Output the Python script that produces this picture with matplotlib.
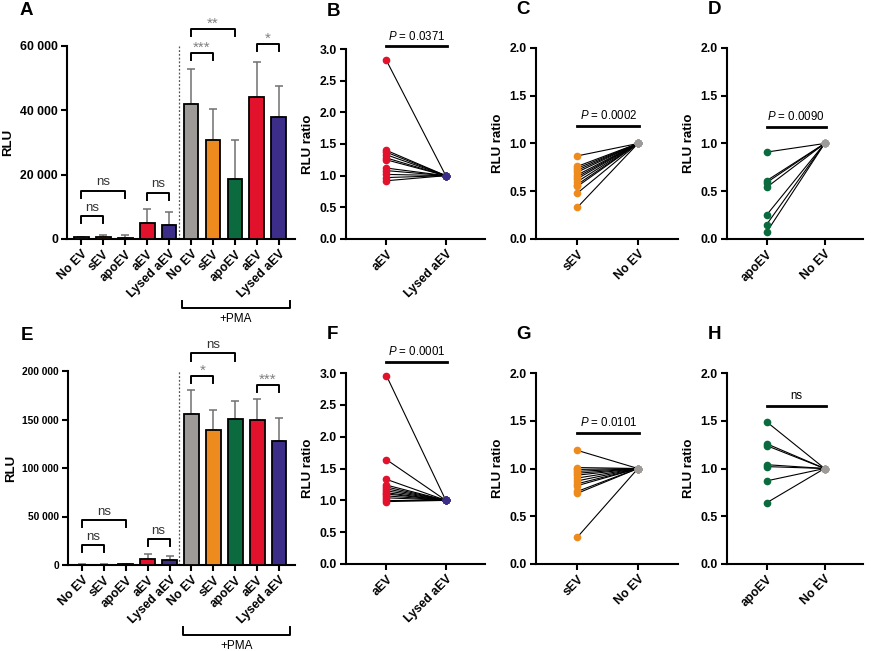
import matplotlib
matplotlib.use('Agg')
import matplotlib.pyplot as plt
import matplotlib.transforms as mtransforms

plt.rcParams['font.family'] = ['Liberation Sans', 'DejaVu Sans']
plt.rcParams['mathtext.fontset'] = 'custom'
plt.rcParams['mathtext.rm'] = 'Liberation Sans'
plt.rcParams['mathtext.it'] = 'Liberation Sans:italic'

# ---- data ----
bar_labels = ['No EV', 'sEV', 'apoEV', 'aEV', 'Lysed aEV'] * 2
group_colors = ['#9E9A98', '#EE8B1F', '#0B6B3F', '#E2112C', '#3C2D88'] * 2

a_means = [500, 500, 400, 5000, 4400, 42000, 30700, 18800, 44000, 38000]
a_err = [200, 800, 800, 4200, 3900, 11000, 9600, 11900, 11000, 9500]
a_yticks = [0, 20000, 40000, 60000]
a_ytick_labels = ['0', '20 000', '40 000', '60 000']
a_sig = [(0, 1, 7200, 'ns'), (0, 2, 15000, 'ns'), (3, 4, 14400, 'ns'),
         (5, 6, 57900, '***'), (5, 7, 65300, '**'), (8, 9, 60700, '*')]

e_means = [300, 500, 700, 6500, 5500, 156000, 139000, 151000, 149000, 128000]
e_err = [300, 500, 800, 5000, 4000, 24000, 21000, 18000, 22000, 24000]
e_yticks = [0, 50000, 100000, 150000, 200000]
e_ytick_labels = ['0', '50 000', '100 000', '150 000', '200 000']
e_sig = [(0, 1, 20300, 'ns'), (0, 2, 46400, 'ns'), (3, 4, 26800, 'ns'),
         (5, 6, 194800, '*'), (5, 7, 218200, 'ns'), (8, 9, 185600, '***')]

b_aev = [2.82, 1.40, 1.37, 1.33, 1.28, 1.25, 1.12, 1.08, 1.02, 0.97, 0.92]
c_sev = [0.87, 0.76, 0.74, 0.72, 0.70, 0.67, 0.65, 0.63, 0.60, 0.57, 0.55, 0.48, 0.33]
d_apo = [0.91, 0.61, 0.59, 0.54, 0.25, 0.15, 0.07]
f_aev = [2.96, 1.64, 1.33, 1.24, 1.21, 1.18, 1.15, 1.12, 1.10, 1.07, 1.04, 1.00, 0.98]
g_sev = [1.19, 1.01, 0.99, 0.97, 0.95, 0.93, 0.90, 0.87, 0.84, 0.82, 0.76, 0.74, 0.28]
h_apo = [1.49, 1.26, 1.24, 1.04, 1.02, 0.87, 0.64]
ref_value = 1.0

W, H = 871, 651
fig = plt.figure(figsize=(W / 100, H / 100), dpi=100)


def px_axes(left, top, right, bottom):
    return fig.add_axes([left / W, 1 - bottom / H, (right - left) / W, (bottom - top) / H])


def style(ax, ysize=8.8):
    for s in ['top', 'right']:
        ax.spines[s].set_visible(False)
    for s in ['left', 'bottom']:
        ax.spines[s].set_linewidth(1.5)
    ax.tick_params(width=1.5, length=4, labelsize=8.8, pad=2.5)
    ax.tick_params(axis='y', labelsize=ysize)
    for lab in ax.get_xticklabels() + ax.get_yticklabels():
        lab.set_fontweight('bold')


def bar_panel(ax, means, err, yticks, ytick_labels, sig, letter, ysize):
    x = list(range(len(means)))
    ax.bar(x, means, width=0.68, color=group_colors, edgecolor='black', linewidth=1.3, zorder=3)
    ax.errorbar(x, means, yerr=[[0] * len(err), err], fmt='none', ecolor='#707070',
                elinewidth=1.1, capsize=3, capthick=1.1, zorder=2)
    ymax = yticks[-1]
    ax.set_ylim(0, ymax)
    ax.set_xlim(-0.64, 9.73)
    ax.set_yticks(yticks)
    ax.set_yticklabels(ytick_labels)
    ax.set_xticks(x)
    ax.set_xticklabels(bar_labels, rotation=45, ha='right', rotation_mode='anchor')
    ax.set_ylabel('RLU', fontsize=9.5, fontweight='bold', labelpad=4)
    ax.plot([4.45, 4.45], [0, ymax], ls=(0, (1.5, 1.5)), color='#555555', lw=0.9, zorder=1)
    drop = ymax * 0.037
    for i, j, y, t in sig:
        ax.plot([i, i, j, j], [y - drop, y, y, y - drop], color='black', lw=1.4, clip_on=False)
        col = '#333333' if t == 'ns' else '#808080'
        off = ymax * 0.012 if t == 'ns' else -ymax * 0.01
        ax.text((i + j) / 2, y + off, t, ha='center', va='bottom', fontsize=9.5 if t == 'ns' else 11,
                color=col)
    tr = mtransforms.blended_transform_factory(ax.transData, ax.transAxes)
    ax.plot([4.6, 4.6, 9.5, 9.5], [-0.32, -0.36, -0.36, -0.32], color='black', lw=1.4,
            transform=tr, clip_on=False)
    ax.text(7.05, -0.385, '+PMA', ha='center', va='top', fontsize=8.5, transform=tr)
    style(ax, ysize)
    ax.text(-0.21, 1.185, letter, transform=ax.transAxes, fontsize=13.5, fontweight='bold',
            va='center', ha='left')


def pair_panel(ax, vals, labels, color, ref_color, ylim, ptext, ybar, letter):
    for v in vals:
        ax.plot([0, 1], [v, ref_value], color='black', lw=0.8, zorder=2)
    ax.plot([0] * len(vals), vals, 'o', color=color, ms=4.5, zorder=3, clip_on=False)
    ax.plot([1] * len(vals), [ref_value] * len(vals), 'o', color=ref_color, ms=4.5, zorder=3)
    ax.set_xlim(-0.68, 1.66)
    ax.set_ylim(0, ylim)
    step = 0.5
    ticks = [i * step for i in range(int(round(ylim / step)) + 1)]
    ax.set_yticks(ticks)
    ax.set_yticklabels(['%.1f' % t for t in ticks])
    ax.set_xticks([0, 1])
    ax.set_xticklabels(labels, rotation=45, ha='right', rotation_mode='anchor')
    ax.set_ylabel('RLU ratio', fontsize=9.5, fontweight='bold', labelpad=4)
    ax.plot([0, 1.02], [ybar, ybar], color='black', lw=2, clip_on=False)
    ax.text(0.51, ybar + ylim * 0.02, ptext, ha='center', va='bottom', fontsize=8.3)
    style(ax)
    ax.text(-0.14, 1.2, letter, transform=ax.transAxes, fontsize=13.5, fontweight='bold',
            va='center', ha='left')


axA = px_axes(67, 46, 295, 239)
bar_panel(axA, a_means, a_err, a_yticks, a_ytick_labels, a_sig, 'A', 8.8)
axE = px_axes(68, 371, 295, 565)
bar_panel(axE, e_means, e_err, e_yticks, e_ytick_labels, e_sig, 'E', 7.4)

axB = px_axes(346, 49, 485, 239)
pair_panel(axB, b_aev, ['aEV', 'Lysed aEV'], '#E2112C', '#3C2D88', 3.0,
           r'$\mathit{P}$ = 0.0371', 3.04, 'B')
axC = px_axes(536, 48, 678, 239)
pair_panel(axC, c_sev, ['sEV', 'No EV'], '#EE8B1F', '#9E9A98', 2.0,
           r'$\mathit{P}$ = 0.0002', 1.185, 'C')
axD = px_axes(727, 48, 863, 239)
pair_panel(axD, d_apo, ['apoEV', 'No EV'], '#0B6B3F', '#9E9A98', 2.0,
           r'$\mathit{P}$ = 0.0090', 1.175, 'D')
axF = px_axes(346, 373, 485, 564)
pair_panel(axF, f_aev, ['aEV', 'Lysed aEV'], '#E2112C', '#3C2D88', 3.0,
           r'$\mathit{P}$ = 0.0001', 3.17, 'F')
axG = px_axes(536, 373, 678, 564)
pair_panel(axG, g_sev, ['sEV', 'No EV'], '#EE8B1F', '#9E9A98', 2.0,
           r'$\mathit{P}$ = 0.0101', 1.372, 'G')
axH = px_axes(727, 373, 863, 564)
pair_panel(axH, h_apo, ['apoEV', 'No EV'], '#0B6B3F', '#9E9A98', 2.0,
           'ns', 1.658, 'H')

fig.savefig('out.png', dpi=100)
